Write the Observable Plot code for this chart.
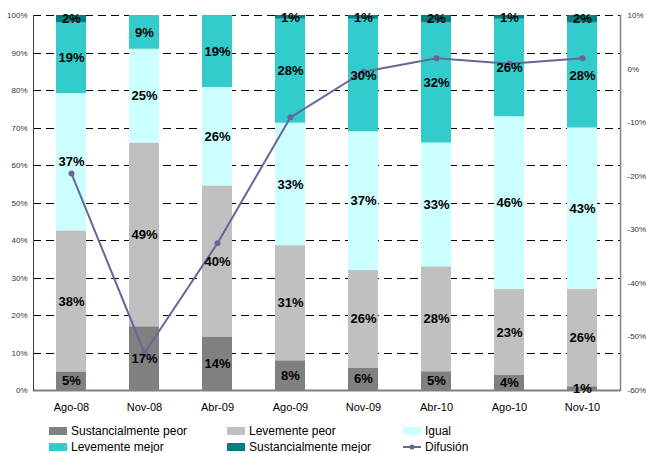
<!DOCTYPE html>
<html>
<head>
<meta charset="utf-8">
<script src="https://cdn.jsdelivr.net/npm/d3@7"></script>
<script src="https://cdn.jsdelivr.net/npm/@observablehq/plot@0.6"></script>
<style>
  body { margin: 0; background: #fff; font-family: "Liberation Sans", Arial, sans-serif; }
  #wrap { position: relative; width: 646px; height: 453px; }
  #legend { position: absolute; left: 0; top: 418px; width: 646px; height: 35px; }
  .item { position: absolute; display: flex; align-items: center; font-size: 12px; color: #000; line-height: 14px; white-space: nowrap; }
  .sw { width: 18px; height: 8px; margin-right: 4px; }
</style>
</head>
<body>
<div id="wrap"><div id="chart"></div><div id="legend"></div></div>
<script>
// Survey periods
const periods = ["Ago-08", "Nov-08", "Abr-09", "Ago-09", "Nov-09", "Abr-10", "Ago-10", "Nov-10"];

// Answer categories, bottom to top of each stack
const categories = ["Sustancialmente peor", "Levemente peor", "Igual", "Levemente mejor", "Sustancialmente mejor"];
const colors = ["#808080", "#C0C0C0", "#CCFFFF", "#33CCCC", "#008080"];

// Share of answers per period (%)
const sustPeor  = [5, 17, 14, 8, 6, 5, 4, 1];
const levPeor   = [38, 49, 40, 31, 26, 28, 23, 26];
const igual     = [37, 25, 26, 33, 37, 33, 46, 43];
const levMejor  = [19, 9, 19, 28, 30, 32, 26, 28];
const sustMejor = [2, 0, 0, 1, 1, 2, 1, 2];

// Diffusion index (%), read on the right-hand axis
const difusion = [-19.5, -53, -32.5, -9, -0.5, 2, 1, 2];

// Axis ticks
const leftTicks = [0, 10, 20, 30, 40, 50, 60, 70, 80, 90, 100];
const rightTicks = [-60, -50, -40, -30, -20, -10, 0, 10];
const rightMin = -60, rightMax = 10;

const series = [sustPeor, levPeor, igual, levMejor, sustMejor];
const rows = categories.flatMap((c, i) =>
  periods.map((p, j) => ({period: p, category: c, value: series[i][j]}))
);
const diffRows = periods.map((p, j) => ({period: p, value: difusion[j]}));

// map the right-hand axis onto the shared 0–1 vertical scale
const toLeft = v => (v - rightMin) / (rightMax - rightMin);
const fromLeft = u => Math.round(u * (rightMax - rightMin) + rightMin);

const stackOpts = {x: "period", y: "value", z: "category", offset: "normalize"};

const chart = Plot.plot({
  width: 646,
  height: 418,
  marginTop: 15,
  marginBottom: 28,
  marginLeft: 33,
  marginRight: 26,
  style: {fontFamily: "'Liberation Sans', Arial, sans-serif", background: "#fff"},
  x: {domain: periods, paddingInner: 0.59, paddingOuter: 0.295, label: null},
  y: {domain: [0, 1], label: null},
  color: {domain: categories, range: colors},
  marks: [
    Plot.ruleY(leftTicks.filter(t => t > 0).map(t => t / 100), {
      stroke: "#000", strokeWidth: 1, strokeDasharray: "8,5", shapeRendering: "crispEdges"
    }),
    Plot.barY(rows, Plot.stackY({...stackOpts, fill: "category"})),
    Plot.ruleY([0], {stroke: "#808080", strokeWidth: 2}),
    Plot.frame({anchor: "left", stroke: "#404040"}),
    Plot.frame({anchor: "right", stroke: "#808080", strokeWidth: 1.5}),
    Plot.axisX({tickSize: 0, tickPadding: 13, fontSize: 11, fill: "#000", label: null}),
    Plot.axisY({
      anchor: "left", ticks: leftTicks.map(t => t / 100), tickFormat: d3.format(".0%"),
      tickSize: 0, tickPadding: 6, fontSize: 8, fill: "#333", label: null
    }),
    Plot.axisY({
      anchor: "right", ticks: rightTicks.map(toLeft), tickFormat: u => fromLeft(u) + "%",
      tickSize: 0, tickPadding: 7, fontSize: 8, fill: "#333", label: null
    }),
    Plot.line(diffRows, {x: "period", y: d => toLeft(d.value), stroke: "#666699", strokeWidth: 2}),
    Plot.dot(diffRows, {x: "period", y: d => toLeft(d.value), r: 3, fill: "#666699"}),
    Plot.text(rows.filter(d => d.value > 0), Plot.stackY({
      ...stackOpts,
      text: d => d.value + "%",
      fontSize: 13, fontWeight: "bold", fill: "#000"
    }))
  ]
});
document.getElementById("chart").appendChild(chart);

// Legend: three columns, two rows
const legendItems = [
  ...categories.map((c, i) => ({label: c, color: colors[i], type: "swatch"})),
  {label: "Difusión", color: "#666699", type: "line"}
];
const colX = [49, 227, 403];
const rowY = [6, 22];
const legend = d3.select("#legend");
legendItems.forEach((d, i) => {
  const item = legend.append("div").attr("class", "item")
    .style("left", colX[i % 3] + "px")
    .style("top", rowY[Math.floor(i / 3)] + "px");
  if (d.type === "swatch") {
    item.append("div").attr("class", "sw").style("background", d.color);
  } else {
    const s = item.append("svg").attr("width", 18).attr("height", 8).style("margin-right", "4px");
    s.append("line").attr("x1", 0).attr("x2", 18).attr("y1", 4).attr("y2", 4)
      .attr("stroke", d.color).attr("stroke-width", 2);
    s.append("circle").attr("cx", 9).attr("cy", 4).attr("r", 2.5).attr("fill", d.color);
  }
  item.append("span").text(d.label);
});
</script>
</body>
</html>
